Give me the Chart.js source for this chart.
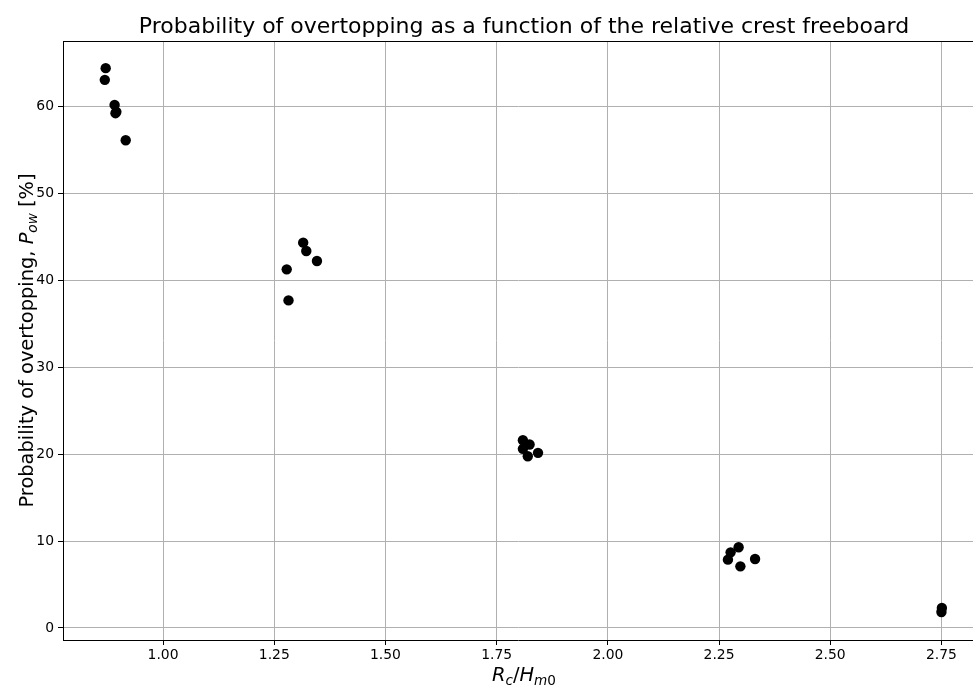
<!DOCTYPE html>
<html><head><meta charset="utf-8">
<script src="https://cdn.jsdelivr.net/npm/chart.js@4"></script>
<style>html,body{margin:0;padding:0;background:#fff;overflow:hidden}canvas{display:block}</style>
</head><body>
<canvas id="c" width="973" height="686"></canvas>
<script>
// ---- data ----
const chartTitle = "Probability of overtopping as a function of the relative crest freeboard";
const relFreeboard = [0.871, 0.869, 0.891, 0.895, 0.893, 0.916,
                      1.315, 1.322, 1.346, 1.278, 1.282,
                      1.809, 1.824, 1.809, 1.820, 1.843,
                      2.294, 2.276, 2.270, 2.298, 2.331,
                      2.751, 2.750];
const overtopProb = [64.38, 63.03, 60.15, 59.35, 59.2, 56.09,
                     44.31, 43.35, 42.20, 41.24, 37.67,
                     21.59, 21.10, 20.60, 19.75, 20.14,
                     9.28, 8.70, 7.86, 7.09, 7.94,
                     2.30, 1.84];
const xTickValues = [1.00, 1.25, 1.50, 1.75, 2.00, 2.25, 2.50, 2.75];
const yTickValues = [0, 10, 20, 30, 40, 50, 60];
const xLimits = [0.775, 2.821];
const yLimits = [-1.38, 67.5];

const points = relFreeboard.map((x, i) => ({x: x, y: overtopProb[i]}));
const FONT = "'DejaVu Sans', sans-serif";

function richWidth(ctx, parts, size) {
  let w = 0;
  for (const p of parts) {
    ctx.font = (p.it ? 'italic ' : '') + (p.sub ? size * 0.7 : size) + 'px ' + FONT;
    w += ctx.measureText(p.t).width;
  }
  return w;
}
function drawRich(ctx, parts, cx, baseY, size) {
  let x = cx - richWidth(ctx, parts, size) / 2;
  ctx.textAlign = 'left';
  ctx.textBaseline = 'alphabetic';
  for (const p of parts) {
    ctx.font = (p.it ? 'italic ' : '') + (p.sub ? size * 0.7 : size) + 'px ' + FONT;
    ctx.fillText(p.t, x, baseY + (p.sub ? size * 0.22 : 0));
    x += ctx.measureText(p.t).width;
  }
}

const textPlugin = {
  id: 'textPlugin',
  afterDraw(chart) {
    const ctx = chart.ctx;
    const a = chart.chartArea;
    ctx.save();
    ctx.fillStyle = '#000';
    // top spine
    ctx.strokeStyle = '#000';
    ctx.lineWidth = 1;
    ctx.beginPath();
    ctx.moveTo(a.left, a.top + 0.5);
    ctx.lineTo(a.right, a.top + 0.5);
    ctx.stroke();
    // title
    ctx.font = '22px ' + FONT;
    ctx.textAlign = 'center';
    ctx.textBaseline = 'alphabetic';
    ctx.fillText(chartTitle, 524, 33);
    // x label
    drawRich(ctx, [
      {t: 'R', it: true}, {t: 'c', it: true, sub: true},
      {t: '/'}, {t: 'H', it: true}, {t: 'm', it: true, sub: true}, {t: '0', sub: true}
    ], 524, 681, 19.4);
    // y label
    ctx.translate(33, (a.top + a.bottom) / 2);
    ctx.rotate(-Math.PI / 2);
    drawRich(ctx, [
      {t: 'Probability of overtopping, '}, {t: 'P', it: true},
      {t: 'ow', it: true, sub: true}, {t: ' [%]'}
    ], 0, 0, 19.4);
    ctx.restore();
  }
};

new Chart(document.getElementById('c'), {
  type: 'scatter',
  data: {
    datasets: [{
      data: points,
      backgroundColor: '#000',
      borderWidth: 0,
      pointRadius: 5.2,
      pointHoverRadius: 5.2
    }]
  },
  options: {
    responsive: false,
    animation: false,
    devicePixelRatio: 1,
    layout: {autoPadding: false, padding: {top: 41, left: 0, right: 0, bottom: 0}},
    plugins: {legend: {display: false}, tooltip: {enabled: false}, title: {display: false}},
    scales: {
      x: {
        type: 'linear',
        min: xLimits[0], max: xLimits[1],
        afterBuildTicks: s => { s.ticks = xTickValues.map(v => ({value: v})); },
        afterFit: s => { s.height = 46; s.paddingLeft = 0; s.paddingRight = 0; },
        grid: {color: '#b0b0b0', lineWidth: 1, tickColor: '#000', tickLength: 5},
        border: {color: '#000', width: 1},
        ticks: {color: '#000', font: {family: FONT, size: 13.9}, padding: 2,
                maxRotation: 0, autoSkip: false,
                callback: v => Number(v).toFixed(2)}
      },
      y: {
        type: 'linear',
        min: yLimits[0], max: yLimits[1],
        afterBuildTicks: s => { s.ticks = yTickValues.map(v => ({value: v})); },
        afterFit: s => { s.width = 63; s.paddingTop = 0; s.paddingBottom = 0; },
        grid: {color: '#b0b0b0', lineWidth: 1, tickColor: '#000', tickLength: 5},
        border: {color: '#000', width: 1},
        ticks: {color: '#000', font: {family: FONT, size: 13.9}, padding: 4,
                autoSkip: false, callback: v => String(v)}
      }
    }
  },
  plugins: [textPlugin]
});
</script>
</body></html>
